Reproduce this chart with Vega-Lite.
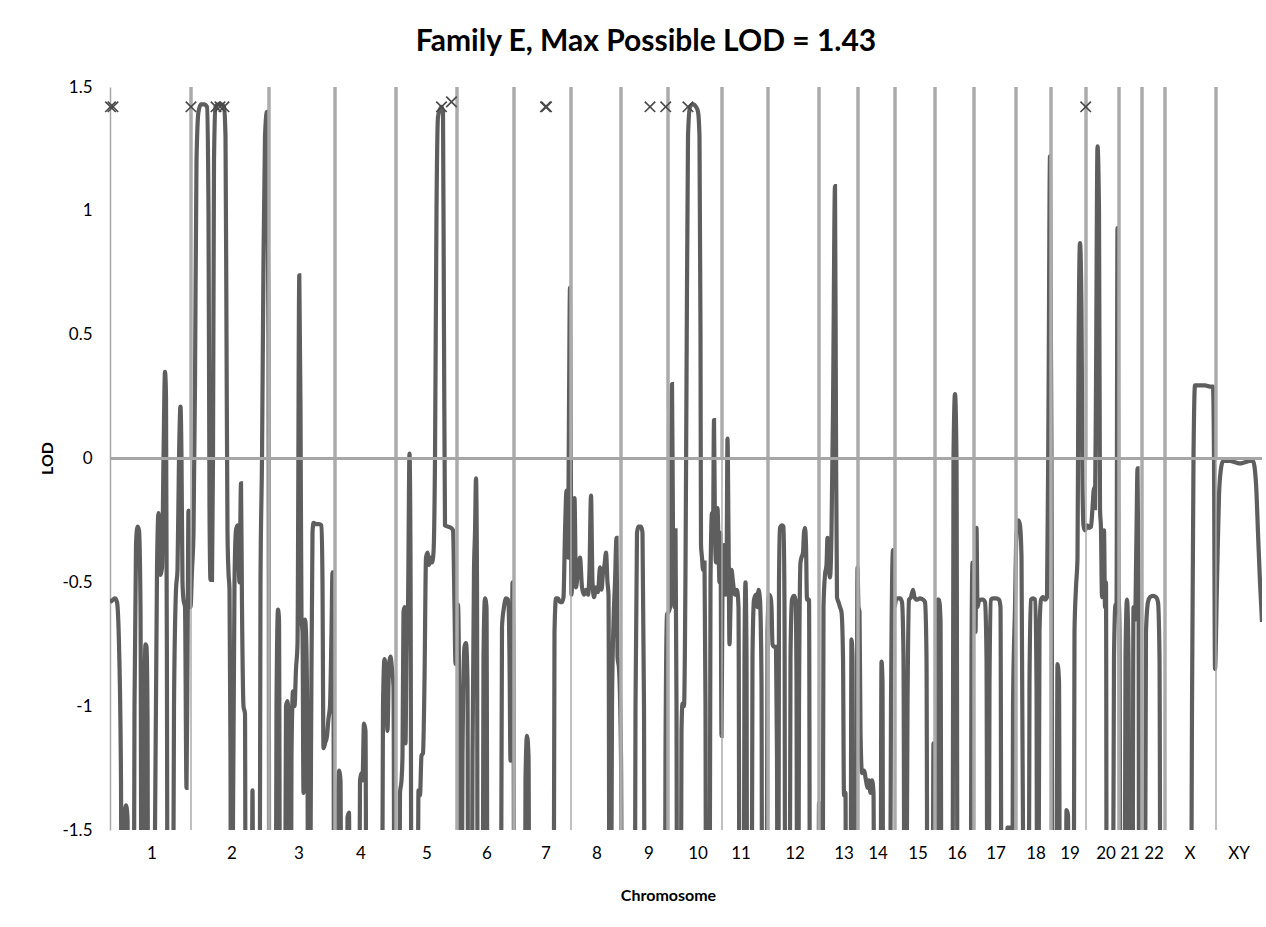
{
"$schema": "https://vega.github.io/schema/vega-lite/v6.json",
"width": 1152, "height": 743,
"autosize": {"type": "none"},
"padding": {"left": 110, "top": 87, "right": 4, "bottom": 97},
"background": "white",
"config": {"view": {"stroke": null}, "font": "Lato"},
"title": {"text": "Family E, Max Possible LOD = 1.43", "font": "Lato", "fontSize": 30, "fontWeight": "bold", "color": "#000000", "anchor": "middle", "dx": -40, "offset": 21},
"datasets": {
"trace": [
{"pos":0,"lod":-0.58},{"pos":3,"lod":-0.57},{"pos":5,"lod":-0.565},{"pos":7,"lod":-0.58},{"pos":9,"lod":-0.75},{"pos":11,"lod":-1.3},{"pos":12,"lod":-3},{"pos":14.5,"lod":-1.45},{"pos":16,"lod":-1.4},{"pos":17.5,"lod":-1.45},{"pos":19,"lod":-3},{"pos":23,"lod":-3},{"pos":24.5,"lod":-1.0},{"pos":26,"lod":-0.35},{"pos":27.5,"lod":-0.275},{"pos":29,"lod":-0.29},{"pos":30.5,"lod":-0.6},{"pos":32,"lod":-3},{"pos":34,"lod":-1.2},{"pos":35.5,"lod":-0.75},{"pos":36.5,"lod":-0.76},{"pos":37.5,"lod":-1.03},{"pos":38.5,"lod":-3},{"pos":43,"lod":-3},{"pos":45,"lod":-1.5},{"pos":47,"lod":-0.45},{"pos":48.5,"lod":-0.22},{"pos":49.5,"lod":-0.35},{"pos":50.5,"lod":-0.47},{"pos":52,"lod":-0.44},{"pos":53.5,"lod":0.0},{"pos":55,"lod":0.35},{"pos":56,"lod":0.25},{"pos":57,"lod":-1.0},{"pos":58,"lod":-3},{"pos":62,"lod":-3},{"pos":64,"lod":-1.0},{"pos":66,"lod":-0.53},{"pos":67.5,"lod":-0.45},{"pos":69,"lod":0.0},{"pos":70.5,"lod":0.21},{"pos":71.5,"lod":0.0},{"pos":72.5,"lod":-0.5},{"pos":73.5,"lod":-0.57},{"pos":75,"lod":-0.6},{"pos":76.5,"lod":-1.33},{"pos":77.5,"lod":-0.8},{"pos":78.5,"lod":-0.21},{"pos":79.5,"lod":-0.5},{"pos":80.5,"lod":-0.6},
{"pos":82,"lod":-0.45},{"pos":83.5,"lod":-0.3},{"pos":85,"lod":0.3},{"pos":86.5,"lod":1.2},{"pos":88.5,"lod":1.4},{"pos":91,"lod":1.43},{"pos":94,"lod":1.43},{"pos":97,"lod":1.42},{"pos":98.5,"lod":1.0},{"pos":99.5,"lod":-0.2},{"pos":100.5,"lod":-0.49},{"pos":102,"lod":-0.49},{"pos":103,"lod":0.0},{"pos":104,"lod":1.2},{"pos":105.5,"lod":1.42},{"pos":108,"lod":1.43},{"pos":111,"lod":1.43},{"pos":114,"lod":1.42},{"pos":115.5,"lod":1.3},{"pos":116.5,"lod":0.5},{"pos":117.5,"lod":-0.3},{"pos":118.5,"lod":-0.46},{"pos":119.5,"lod":-0.53},{"pos":120.5,"lod":-1.2},{"pos":121.5,"lod":-3},{"pos":123,"lod":-1.45},{"pos":124.5,"lod":-0.5},{"pos":126,"lod":-0.29},{"pos":127.5,"lod":-0.27},{"pos":128.5,"lod":-0.4},{"pos":129.5,"lod":-0.5},{"pos":131,"lod":-0.1},{"pos":132,"lod":-0.6},{"pos":133.5,"lod":-1.0},{"pos":135,"lod":-1.03},{"pos":136,"lod":-3},{"pos":141,"lod":-3},{"pos":142.5,"lod":-1.34},{"pos":144,"lod":-3},{"pos":149,"lod":-3},{"pos":150.5,"lod":-0.5},{"pos":152,"lod":0.0},{"pos":153.5,"lod":0.8},{"pos":155,"lod":1.3},{"pos":157,"lod":1.4},{"pos":158.5,"lod":0.5},{"pos":159.5,"lod":-3},
{"pos":161,"lod":-3},{"pos":165,"lod":-3},{"pos":166.5,"lod":-1.0},{"pos":168,"lod":-0.61},{"pos":169,"lod":-0.65},{"pos":170.5,"lod":-3},{"pos":174,"lod":-3},{"pos":176,"lod":-1.0},{"pos":177.5,"lod":-0.98},{"pos":178.5,"lod":-1.05},{"pos":180,"lod":-3},{"pos":181.5,"lod":-1.2},{"pos":183,"lod":-0.94},{"pos":184.5,"lod":-1.0},{"pos":186,"lod":-0.85},{"pos":187.5,"lod":-0.75},{"pos":189.3,"lod":0.74},{"pos":190.5,"lod":0.2},{"pos":191.5,"lod":-0.65},{"pos":192.5,"lod":-0.7},{"pos":193.5,"lod":-1.35},{"pos":195,"lod":-0.65},{"pos":196,"lod":-0.7},{"pos":197.5,"lod":-1.2},{"pos":198.5,"lod":-3},{"pos":201,"lod":-1.2},{"pos":202.5,"lod":-0.3},{"pos":203.5,"lod":-0.26},{"pos":206,"lod":-0.265},{"pos":209,"lod":-0.265},{"pos":211.5,"lod":-0.27},{"pos":212.5,"lod":-0.5},{"pos":213.5,"lod":-1.17},{"pos":215,"lod":-1.15},{"pos":217,"lod":-1.12},{"pos":218.5,"lod":-1.05},{"pos":220,"lod":-1.0},{"pos":221.5,"lod":-0.7},{"pos":222.5,"lod":-0.46},{"pos":223.5,"lod":-0.9},{"pos":224.5,"lod":-3},
{"pos":226,"lod":-3},{"pos":227.5,"lod":-1.5},{"pos":229,"lod":-1.26},{"pos":230.5,"lod":-1.3},{"pos":232,"lod":-3},{"pos":236,"lod":-3},{"pos":237.5,"lod":-1.45},{"pos":239,"lod":-1.43},{"pos":240.5,"lod":-3},{"pos":248,"lod":-3},{"pos":250,"lod":-1.3},{"pos":251.5,"lod":-1.27},{"pos":252.5,"lod":-1.3},{"pos":254,"lod":-1.07},{"pos":255.5,"lod":-1.1},{"pos":257,"lod":-3},{"pos":271,"lod":-3},{"pos":273,"lod":-1.0},{"pos":274.5,"lod":-0.81},{"pos":276,"lod":-0.9},{"pos":277.5,"lod":-1.1},{"pos":279,"lod":-0.83},{"pos":280.5,"lod":-0.8},{"pos":282,"lod":-0.85},{"pos":283.5,"lod":-0.92},{"pos":285,"lod":-3},
{"pos":288,"lod":-3},{"pos":290,"lod":-1.35},{"pos":291.5,"lod":-1.3},{"pos":292.5,"lod":-1.2},{"pos":293.5,"lod":-0.62},{"pos":294.5,"lod":-0.6},{"pos":295.5,"lod":-1.15},{"pos":296.5,"lod":-0.76},{"pos":298,"lod":-0.6},{"pos":299.5,"lod":0.02},{"pos":300.5,"lod":-0.4},{"pos":302,"lod":-3},{"pos":307,"lod":-3},{"pos":308.5,"lod":-1.34},{"pos":310,"lod":-1.36},{"pos":311.5,"lod":-1.2},{"pos":313,"lod":-1.19},{"pos":314.5,"lod":-0.9},{"pos":316,"lod":-0.4},{"pos":317.5,"lod":-0.38},{"pos":319,"lod":-0.43},{"pos":320.5,"lod":-0.4},{"pos":322,"lod":-0.42},{"pos":323.5,"lod":-0.38},{"pos":325,"lod":0.0},{"pos":326.5,"lod":1.0},{"pos":328,"lod":1.38},{"pos":330,"lod":1.41},{"pos":331.5,"lod":1.42},{"pos":333,"lod":1.4},{"pos":334,"lod":0.5},{"pos":335,"lod":-0.27},{"pos":338,"lod":-0.275},{"pos":341,"lod":-0.28},{"pos":343,"lod":-0.29},{"pos":344.5,"lod":-0.6},{"pos":345.5,"lod":-0.83},{"pos":346.5,"lod":-0.75},
{"pos":348,"lod":-0.59},{"pos":349.5,"lod":-1.2},{"pos":350.5,"lod":-3},{"pos":352.5,"lod":-1.2},{"pos":354.5,"lod":-0.76},{"pos":356,"lod":-0.745},{"pos":357.5,"lod":-0.9},{"pos":358.5,"lod":-3},{"pos":361,"lod":-3},{"pos":362.5,"lod":-1.2},{"pos":364,"lod":-0.45},{"pos":365,"lod":-0.3},{"pos":366,"lod":-0.08},{"pos":367,"lod":-0.5},{"pos":368,"lod":-3},{"pos":372,"lod":-3},{"pos":373.5,"lod":-0.8},{"pos":375,"lod":-0.565},{"pos":376.5,"lod":-0.6},{"pos":378,"lod":-3},{"pos":390,"lod":-3},{"pos":392,"lod":-0.68},{"pos":394,"lod":-0.6},{"pos":396,"lod":-0.565},{"pos":398,"lod":-0.57},{"pos":399.5,"lod":-0.8},{"pos":400.5,"lod":-1.22},{"pos":401.5,"lod":-1.2},{"pos":402.5,"lod":-0.5},{"pos":403.5,"lod":-0.8},{"pos":404.5,"lod":-3},
{"pos":414,"lod":-3},{"pos":415.5,"lod":-1.3},{"pos":417,"lod":-1.12},{"pos":418.5,"lod":-1.2},{"pos":420,"lod":-3},{"pos":443,"lod":-3},{"pos":444.5,"lod":-0.7},{"pos":446,"lod":-0.565},{"pos":448,"lod":-0.565},{"pos":450,"lod":-0.58},{"pos":452,"lod":-0.58},{"pos":453.5,"lod":-0.56},{"pos":455,"lod":-0.3},{"pos":456.5,"lod":-0.13},{"pos":458,"lod":-0.4},{"pos":459,"lod":0.2},{"pos":460,"lod":0.69},{"pos":461,"lod":-0.2},
{"pos":461.5,"lod":-0.55},{"pos":463,"lod":-0.3},{"pos":464.5,"lod":-0.16},{"pos":466,"lod":-0.52},{"pos":468,"lod":-0.45},{"pos":470,"lod":-0.4},{"pos":472,"lod":-0.52},{"pos":474,"lod":-0.55},{"pos":476,"lod":-0.53},{"pos":478,"lod":-0.55},{"pos":479.5,"lod":-0.45},{"pos":481,"lod":-0.15},{"pos":482.5,"lod":-0.5},{"pos":484,"lod":-0.56},{"pos":486,"lod":-0.52},{"pos":488,"lod":-0.54},{"pos":490,"lod":-0.44},{"pos":491.5,"lod":-0.53},{"pos":493,"lod":-0.46},{"pos":494.5,"lod":-0.43},{"pos":496,"lod":-0.38},{"pos":497.5,"lod":-0.5},{"pos":498.5,"lod":-0.55},{"pos":500,"lod":-3},{"pos":502,"lod":-1.0},{"pos":503.5,"lod":-0.66},{"pos":505,"lod":-0.5},{"pos":506.5,"lod":-0.32},{"pos":507.5,"lod":-0.8},{"pos":509,"lod":-0.85},{"pos":511,"lod":-1.2},{"pos":513,"lod":-3},
{"pos":524,"lod":-3},{"pos":525.5,"lod":-1.0},{"pos":527,"lod":-0.3},{"pos":528.5,"lod":-0.275},{"pos":531,"lod":-0.275},{"pos":532.5,"lod":-0.3},{"pos":534,"lod":-1.0},{"pos":535,"lod":-3},{"pos":554,"lod":-3},{"pos":555.5,"lod":-1.2},{"pos":557,"lod":-0.63},{"pos":558.5,"lod":-0.62},
{"pos":560,"lod":-0.6},{"pos":561,"lod":0.0},{"pos":562,"lod":0.3},{"pos":563,"lod":-0.3},{"pos":564.5,"lod":-0.6},{"pos":565.5,"lod":-0.29},{"pos":566.5,"lod":-1.0},{"pos":567.5,"lod":-3},{"pos":570,"lod":-3},{"pos":571.5,"lod":-1.1},{"pos":572.5,"lod":-0.99},{"pos":574,"lod":-1.0},{"pos":575.5,"lod":-0.45},{"pos":576.5,"lod":0.3},{"pos":578,"lod":1.3},{"pos":580,"lod":1.42},{"pos":583,"lod":1.43},{"pos":586,"lod":1.42},{"pos":588,"lod":1.4},{"pos":589.5,"lod":1.3},{"pos":590.5,"lod":0.5},{"pos":591,"lod":-0.35},{"pos":592,"lod":-0.4},{"pos":593,"lod":-0.45},{"pos":594.5,"lod":-0.42},{"pos":595.5,"lod":-1.0},{"pos":596.5,"lod":-3},{"pos":599,"lod":-3},{"pos":600.5,"lod":-0.5},{"pos":602,"lod":-0.22},{"pos":603,"lod":-0.3},{"pos":604,"lod":0.155},{"pos":605,"lod":-0.3},{"pos":606,"lod":-0.42},{"pos":607.5,"lod":-0.2},{"pos":608.5,"lod":-0.35},{"pos":609.5,"lod":-0.5},{"pos":610.5,"lod":-0.3},{"pos":611.5,"lod":-1.12},
{"pos":612.5,"lod":-0.5},{"pos":614,"lod":-0.35},{"pos":615.5,"lod":-0.55},{"pos":616.5,"lod":-0.5},{"pos":617.5,"lod":0.08},{"pos":618.5,"lod":-0.3},{"pos":619.5,"lod":-0.75},{"pos":620.5,"lod":-0.6},{"pos":621.5,"lod":-0.45},{"pos":623,"lod":-0.5},{"pos":625,"lod":-0.55},{"pos":627,"lod":-0.53},{"pos":628.5,"lod":-0.6},{"pos":630,"lod":-3},{"pos":633,"lod":-3},{"pos":634.5,"lod":-0.8},{"pos":635.5,"lod":-0.5},{"pos":636.5,"lod":-0.8},{"pos":637.5,"lod":-3},{"pos":641,"lod":-3},{"pos":642.5,"lod":-0.8},{"pos":644,"lod":-0.57},{"pos":646,"lod":-0.55},{"pos":647.5,"lod":-0.6},{"pos":648.5,"lod":-0.53},{"pos":650,"lod":-0.57},{"pos":651.5,"lod":-0.9},{"pos":652.5,"lod":-3},{"pos":656,"lod":-3},{"pos":657.5,"lod":-0.7},
{"pos":659,"lod":-0.55},{"pos":660.5,"lod":-0.56},{"pos":661.5,"lod":-0.6},{"pos":662.5,"lod":-0.75},{"pos":664,"lod":-0.76},{"pos":666,"lod":-0.76},{"pos":667,"lod":-1.2},{"pos":668,"lod":-3},{"pos":669,"lod":-0.5},{"pos":670,"lod":-0.28},{"pos":672,"lod":-0.27},{"pos":673.5,"lod":-0.275},{"pos":674.5,"lod":-0.6},{"pos":675.5,"lod":-3},{"pos":679,"lod":-3},{"pos":680.5,"lod":-0.8},{"pos":682,"lod":-0.57},{"pos":684,"lod":-0.555},{"pos":685.5,"lod":-0.57},{"pos":686.5,"lod":-0.9},{"pos":687.5,"lod":-3},{"pos":689,"lod":-1.0},{"pos":690.5,"lod":-0.42},{"pos":691.5,"lod":-0.4},{"pos":693,"lod":-0.38},{"pos":694,"lod":-0.3},{"pos":695,"lod":-0.28},{"pos":696,"lod":-0.35},{"pos":697,"lod":-0.57},{"pos":699,"lod":-0.57},{"pos":700.5,"lod":-3},{"pos":708,"lod":-3},
{"pos":709,"lod":-1.39},{"pos":710.5,"lod":-1.4},{"pos":712,"lod":-3},{"pos":713.5,"lod":-0.6},{"pos":715,"lod":-0.47},{"pos":716.5,"lod":-0.43},{"pos":717.5,"lod":-0.32},{"pos":719,"lod":-0.45},{"pos":720,"lod":-0.48},{"pos":721.5,"lod":-0.3},{"pos":723,"lod":0.2},{"pos":725,"lod":1.1},{"pos":726,"lod":0.1},{"pos":727,"lod":-0.56},{"pos":728.5,"lod":-0.58},{"pos":730,"lod":-0.6},{"pos":731.5,"lod":-0.62},{"pos":733,"lod":-0.8},{"pos":734,"lod":-1.36},{"pos":735.5,"lod":-1.35},{"pos":736.5,"lod":-3},{"pos":740,"lod":-3},{"pos":741.5,"lod":-0.73},{"pos":742.5,"lod":-0.8},{"pos":743.5,"lod":-3},{"pos":746,"lod":-3},{"pos":747.5,"lod":-0.44},
{"pos":748.5,"lod":-0.6},{"pos":749.5,"lod":-0.62},{"pos":750.5,"lod":-1.1},{"pos":752,"lod":-1.27},{"pos":754,"lod":-1.26},{"pos":756,"lod":-1.3},{"pos":757.5,"lod":-1.33},{"pos":759,"lod":-1.3},{"pos":760.5,"lod":-1.35},{"pos":762,"lod":-1.3},{"pos":763.5,"lod":-1.35},{"pos":765,"lod":-3},{"pos":770,"lod":-3},{"pos":771.5,"lod":-0.82},{"pos":772.5,"lod":-0.9},{"pos":773.5,"lod":-3},{"pos":779,"lod":-3},{"pos":781,"lod":-1.0},{"pos":783,"lod":-0.37},{"pos":784.5,"lod":-0.6},
{"pos":786,"lod":-0.57},{"pos":788,"lod":-0.565},{"pos":790,"lod":-0.565},{"pos":792,"lod":-0.58},{"pos":793.5,"lod":-0.8},{"pos":795,"lod":-3},{"pos":797.5,"lod":-1.0},{"pos":799,"lod":-0.57},{"pos":801,"lod":-0.56},{"pos":803,"lod":-0.53},{"pos":804.5,"lod":-0.56},{"pos":807,"lod":-0.57},{"pos":810,"lod":-0.565},{"pos":813,"lod":-0.57},{"pos":815,"lod":-0.58},{"pos":816.5,"lod":-0.8},{"pos":818,"lod":-3},{"pos":822,"lod":-3},{"pos":823.5,"lod":-1.15},{"pos":824.5,"lod":-1.2},
{"pos":826,"lod":-3},{"pos":827.5,"lod":-0.57},{"pos":829,"lod":-0.57},{"pos":830.5,"lod":-0.65},{"pos":832,"lod":-3},{"pos":842,"lod":-3},{"pos":843.5,"lod":0.0},{"pos":845,"lod":0.26},{"pos":846.5,"lod":0.0},{"pos":848,"lod":-3},{"pos":860,"lod":-3},{"pos":861.5,"lod":-0.8},{"pos":862.5,"lod":-0.42},
{"pos":864,"lod":-0.5},{"pos":865.5,"lod":-0.7},{"pos":866.5,"lod":-0.28},{"pos":867.5,"lod":-0.6},{"pos":869,"lod":-0.575},{"pos":871,"lod":-0.57},{"pos":873,"lod":-0.57},{"pos":875,"lod":-0.58},{"pos":876.5,"lod":-0.8},{"pos":878,"lod":-3},{"pos":879.5,"lod":-0.9},{"pos":881,"lod":-0.57},{"pos":883,"lod":-0.565},{"pos":886,"lod":-0.565},{"pos":889,"lod":-0.57},{"pos":890.5,"lod":-0.6},{"pos":892,"lod":-3},{"pos":896,"lod":-3},{"pos":897.5,"lod":-1.49},{"pos":900,"lod":-1.49},{"pos":901.5,"lod":-3},{"pos":903,"lod":-1.0},{"pos":905,"lod":-0.6},
{"pos":906.5,"lod":-0.3},{"pos":908.5,"lod":-0.25},{"pos":910,"lod":-0.27},{"pos":911.5,"lod":-0.4},{"pos":913,"lod":-1.5},{"pos":914,"lod":-3},{"pos":918,"lod":-3},{"pos":919.5,"lod":-0.9},{"pos":921,"lod":-0.57},{"pos":923,"lod":-0.565},{"pos":925,"lod":-0.57},{"pos":926.5,"lod":-0.9},{"pos":927.5,"lod":-3},{"pos":929.5,"lod":-0.7},{"pos":931,"lod":-0.57},{"pos":933,"lod":-0.56},{"pos":935,"lod":-0.57},{"pos":937,"lod":-0.56},{"pos":938.5,"lod":0.2},{"pos":940,"lod":1.22},
{"pos":941.5,"lod":0.0},{"pos":943,"lod":-3},{"pos":946,"lod":-3},{"pos":947.5,"lod":-0.83},{"pos":949,"lod":-0.9},{"pos":950.5,"lod":-3},{"pos":955,"lod":-3},{"pos":956.5,"lod":-1.42},{"pos":958,"lod":-1.44},{"pos":959.5,"lod":-3},{"pos":963,"lod":-3},{"pos":964.5,"lod":-0.7},{"pos":966,"lod":-0.52},{"pos":967.5,"lod":-0.4},{"pos":968.5,"lod":0.4},{"pos":970,"lod":0.87},{"pos":971.5,"lod":0.6},{"pos":972.5,"lod":-0.1},{"pos":973.5,"lod":-0.27},{"pos":975,"lod":-0.29},
{"pos":977,"lod":-0.27},{"pos":979,"lod":-0.28},{"pos":981,"lod":-0.275},{"pos":982.5,"lod":-0.2},{"pos":984,"lod":-0.12},{"pos":985,"lod":-0.2},{"pos":986,"lod":0.3},{"pos":987.5,"lod":1.26},{"pos":989,"lod":1.0},{"pos":990,"lod":-0.2},{"pos":991,"lod":-0.29},{"pos":992,"lod":-0.56},{"pos":993,"lod":-0.5},{"pos":994,"lod":-0.29},{"pos":995,"lod":-0.6},{"pos":996,"lod":-0.5},{"pos":997,"lod":-3},{"pos":1002,"lod":-3},{"pos":1004,"lod":-0.8},{"pos":1005.5,"lod":-0.59},{"pos":1006.5,"lod":-0.6},{"pos":1007.5,"lod":0.93},{"pos":1008.5,"lod":-0.5},
{"pos":1009.5,"lod":-0.69},{"pos":1011,"lod":-3},{"pos":1014,"lod":-3},{"pos":1015.5,"lod":-0.8},{"pos":1017,"lod":-0.57},{"pos":1018.5,"lod":-0.8},{"pos":1020,"lod":-3},{"pos":1022,"lod":-3},{"pos":1023.5,"lod":-0.6},{"pos":1025,"lod":-0.65},{"pos":1026.5,"lod":-0.3},{"pos":1027.5,"lod":-0.04},{"pos":1028.5,"lod":-0.5},{"pos":1029.5,"lod":-3},
{"pos":1034,"lod":-3},{"pos":1036,"lod":-0.7},{"pos":1038,"lod":-0.58},{"pos":1040,"lod":-0.56},{"pos":1043,"lod":-0.555},{"pos":1046,"lod":-0.56},{"pos":1048,"lod":-0.58},{"pos":1049.5,"lod":-0.8},{"pos":1051,"lod":-3},
{"pos":1080,"lod":-3},{"pos":1082,"lod":-1.0},{"pos":1083.5,"lod":0.0},{"pos":1085,"lod":0.295},{"pos":1090,"lod":0.295},{"pos":1095,"lod":0.295},{"pos":1100,"lod":0.29},{"pos":1103,"lod":0.29},{"pos":1104,"lod":0.0},{"pos":1105,"lod":-0.85},
{"pos":1107,"lod":-0.5},{"pos":1109,"lod":-0.15},{"pos":1111,"lod":-0.04},{"pos":1113,"lod":-0.01},{"pos":1120,"lod":-0.01},{"pos":1125,"lod":-0.015},{"pos":1130,"lod":-0.02},{"pos":1135,"lod":-0.015},{"pos":1140,"lod":-0.01},{"pos":1143,"lod":-0.01},{"pos":1146,"lod":-0.1},{"pos":1148,"lod":-0.3},{"pos":1150,"lod":-0.5},{"pos":1152,"lod":-0.66}
],
"bounds": [
{"pos":81,"partial":true},{"pos":159,"partial":false},{"pos":225,"partial":false},{"pos":286,"partial":false},{"pos":347,"partial":false},{"pos":404,"partial":false},{"pos":461,"partial":true},{"pos":511,"partial":false},{"pos":558,"partial":false},{"pos":612,"partial":true},{"pos":658,"partial":false},{"pos":709,"partial":false},{"pos":748,"partial":false},{"pos":785,"partial":false},{"pos":825,"partial":false},{"pos":864,"partial":false},{"pos":906,"partial":false},{"pos":941,"partial":false},{"pos":976,"partial":true},{"pos":1009,"partial":false},{"pos":1032,"partial":false},{"pos":1055,"partial":false},{"pos":1106,"partial":true}
],
"labels": [
{"chr":"1","pos":42},{"chr":"2","pos":122},{"chr":"3","pos":189},{"chr":"4","pos":251},{"chr":"5","pos":317},{"chr":"6","pos":377},{"chr":"7","pos":436},{"chr":"8","pos":487},{"chr":"9","pos":539},{"chr":"10","pos":588},{"chr":"11","pos":631},{"chr":"12","pos":685},{"chr":"13","pos":734},{"chr":"14","pos":768},{"chr":"15","pos":808},{"chr":"16","pos":847},{"chr":"17","pos":886},{"chr":"18","pos":926},{"chr":"19","pos":960},{"chr":"20","pos":996},{"chr":"21","pos":1020},{"chr":"22","pos":1044},{"chr":"X","pos":1080},{"chr":"XY","pos":1129}
],
"markers": [
{"pos":0.5,"lod":1.42},{"pos":3,"lod":1.42},{"pos":81,"lod":1.42},{"pos":106,"lod":1.42},{"pos":110,"lod":1.42},{"pos":114,"lod":1.42},{"pos":331.5,"lod":1.42},{"pos":341.5,"lod":1.44},{"pos":435.5,"lod":1.42},{"pos":436.5,"lod":1.42},{"pos":540,"lod":1.42},{"pos":555.7,"lod":1.42},{"pos":578,"lod":1.42},{"pos":975.7,"lod":1.42}
]
},
"layer": [
{
"data": {"name": "trace"},
"mark": {"type": "line", "color": "#5e5e5e", "strokeWidth": 4.2, "interpolate": "monotone", "clip": true},
"encoding": {
"x": {"field": "pos", "type": "quantitative", "scale": {"domain": [0, 1152], "nice": false, "zero": false},
"axis": {"title": "Chromosome", "labels": false, "ticks": false, "domain": false, "grid": false, "titleFont": "Lato", "titleFontSize": 16, "titleFontWeight": "bold", "titleColor": "#000000", "titleX": 558, "titleY": 65, "titleBaseline": "middle"}},
"y": {"field": "lod", "type": "quantitative", "scale": {"domain": [-1.5, 1.5], "nice": false, "zero": false},
"axis": {"title": "LOD", "values": [-1.5, -1, -0.5, 0, 0.5, 1, 1.5], "format": "~g", "labelExpr": "replace(datum.label, '\u2212', '-')", "ticks": false, "tickSize": 0, "grid": false, "domain": true, "domainColor": "#a8a8a8", "domainWidth": 1.5, "labelFont": "Lato", "labelFontSize": 17, "labelColor": "#000000", "labelPadding": 18, "titleFont": "Lato", "titleFontSize": 16, "titleFontWeight": "bold", "titleColor": "#000000", "titleX": -63, "titleY": 371, "titleBaseline": "middle", "titleAlign": "center"}}
}
},
{
"data": {"name": "bounds"},
"mark": {"type": "rule", "color": "#ababab", "strokeWidth": 3.5},
"encoding": {"x": {"field": "pos", "type": "quantitative"}, "y": {"datum": 0, "type": "quantitative"}, "y2": {"datum": 1.5}}
},
{
"data": {"name": "bounds"},
"mark": {"type": "rule", "color": "#ababab"},
"encoding": {"x": {"field": "pos", "type": "quantitative"}, "y": {"datum": -1.5, "type": "quantitative"}, "y2": {"datum": 0}, "strokeWidth": {"condition": {"test": "datum.partial", "value": 1.5}, "value": 3.5}}
},
{
"data": {"values": [{"lod": 0}]},
"mark": {"type": "rule", "color": "#a6a6a6", "strokeWidth": 3},
"encoding": {"y": {"field": "lod", "type": "quantitative"}}
},
{
"data": {"name": "markers"},
"mark": {"type": "point", "shape": "M-1,-1L1,1M-1,1L1,-1", "filled": false, "stroke": "#484848", "strokeWidth": 1.6, "size": 110, "opacity": 1},
"encoding": {"x": {"field": "pos", "type": "quantitative"}, "y": {"field": "lod", "type": "quantitative"}}
},
{
"data": {"name": "labels"},
"mark": {"type": "text", "font": "Lato", "fontSize": 17, "color": "#000000", "align": "center", "baseline": "middle", "dy": 24},
"encoding": {"x": {"field": "pos", "type": "quantitative"}, "y": {"datum": -1.5, "type": "quantitative"}, "text": {"field": "chr"}}
}
]
}
